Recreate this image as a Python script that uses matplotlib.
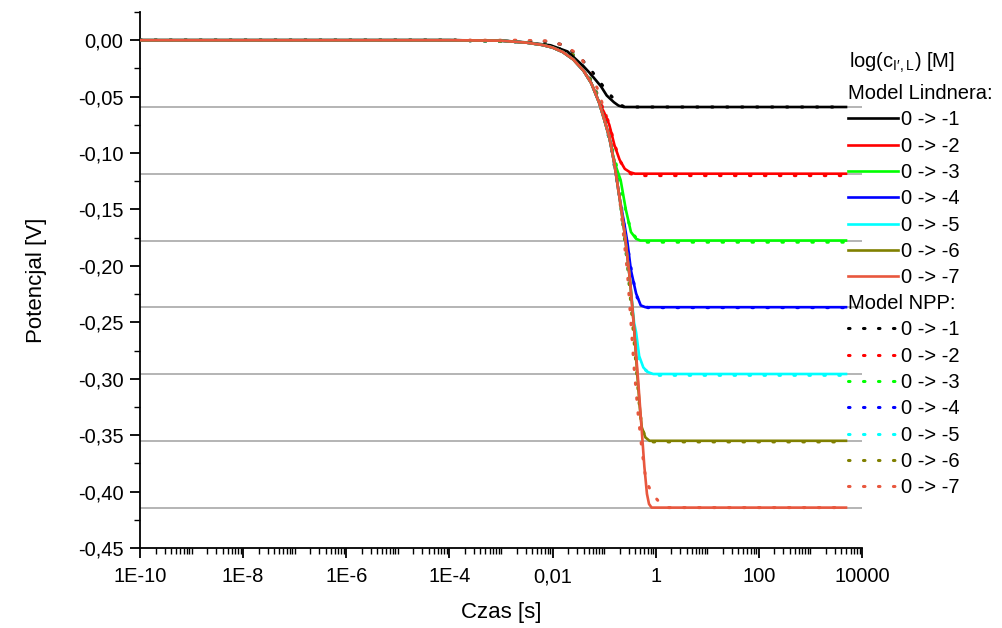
import numpy as np
import matplotlib
matplotlib.use('Agg')
import matplotlib.pyplot as plt
import matplotlib.ticker as mticker

plt.rcParams['font.family'] = ['Liberation Sans', 'DejaVu Sans']
plt.rcParams['mathtext.fontset'] = 'custom'
plt.rcParams['mathtext.rm'] = 'Liberation Sans'
plt.rcParams['mathtext.it'] = 'Liberation Sans'

# data: log10(t [s]) and potential [V]
# Model Lindnera (solid)
lind_logt = {
    1: [-10, -4, -3, -2.5, -2.04, -1.71, -1.39, -1.26, -1.06, -0.95, -0.81, -0.72, -0.62, 3.69],
    2: [-10, -4, -3, -2.5, -2.2, -2.0, -1.8, -1.6, -1.4, -1.25, -1.1, -1.0, -0.9, -0.8, -0.7, -0.6, -0.5, -0.4, 3.69],
    3: [-10, -4, -3, -2.5, -2.2, -2.0, -1.8, -1.6, -1.4, -1.25, -1.1, -1.0, -0.9, -0.8, -0.68, -0.58, -0.48, -0.38, -0.3, 3.69],
    4: [-10, -4, -3, -2.5, -2.2, -2.0, -1.8, -1.6, -1.4, -1.25, -1.1, -1.0, -0.9, -0.8, -0.7, -0.6, -0.546, -0.48, -0.38, -0.29, -0.2, 3.69],
    5: [-10, -4, -3, -2.5, -2.2, -2.0, -1.8, -1.6, -1.4, -1.25, -1.1, -1.0, -0.9, -0.8, -0.7, -0.6, -0.5, -0.42, -0.38, -0.32, -0.24, -0.157, -0.05, 3.69],
    6: [-10, -4, -3, -2.5, -2.2, -2.0, -1.8, -1.6, -1.4, -1.25, -1.1, -1.0, -0.9, -0.8, -0.7, -0.6, -0.5, -0.42, -0.36, -0.31, -0.27, -0.2, -0.12, 3.69],
    7: [-10, -4, -3, -2.5, -2.2, -2.0, -1.8, -1.6, -1.4, -1.25, -1.1, -1.0, -0.9, -0.8, -0.7, -0.6, -0.5, -0.42, -0.34, -0.28, -0.22, -0.17, -0.13, -0.08, 3.69],
}
lind_E = {
    1: [0, 0, -0.0003, -0.002, -0.0045, -0.010, -0.0236, -0.030, -0.041, -0.049, -0.055, -0.058, -0.0592, -0.0592],
    2: [0, 0, -0.0004, -0.0022, -0.0042, -0.0065, -0.0105, -0.017, -0.027, -0.038, -0.055, -0.064, -0.075, -0.093, -0.106, -0.114, -0.117, -0.1183, -0.1183],
    3: [0, 0, -0.0004, -0.0022, -0.0042, -0.0065, -0.0105, -0.017, -0.027, -0.038, -0.055, -0.070, -0.086, -0.108, -0.124, -0.150, -0.170, -0.176, -0.1775, -0.1775],
    4: [0, 0, -0.0004, -0.0022, -0.0042, -0.0065, -0.0105, -0.017, -0.027, -0.038, -0.055, -0.070, -0.086, -0.110, -0.140, -0.165, -0.180, -0.204, -0.2245, -0.235, -0.2366, -0.2366],
    5: [0, 0, -0.0004, -0.0022, -0.0042, -0.0065, -0.0105, -0.017, -0.027, -0.038, -0.055, -0.070, -0.086, -0.110, -0.140, -0.172, -0.212, -0.250, -0.259, -0.280, -0.290, -0.294, -0.2958, -0.2958],
    6: [0, 0, -0.0004, -0.0022, -0.0042, -0.0065, -0.0105, -0.017, -0.027, -0.038, -0.055, -0.070, -0.086, -0.110, -0.140, -0.172, -0.212, -0.255, -0.295, -0.325, -0.343, -0.352, -0.355, -0.355],
    7: [0, 0, -0.0004, -0.0022, -0.0042, -0.0065, -0.0105, -0.017, -0.027, -0.038, -0.055, -0.070, -0.086, -0.110, -0.140, -0.172, -0.212, -0.255, -0.302, -0.340, -0.378, -0.402, -0.411, -0.4142, -0.4142],
}

# Model NPP (dotted)
npp_logt = {
    1: [-10, -4, -2.08, -1.78, -1.47, -1.23, -1.0, -0.74, -0.6, 3.69],
    2: [-10, -4, -2.5, -2.0, -1.6, -1.4, -1.2, -1.0, -0.9, -0.8, -0.68, -0.55, -0.4, 3.69],
    3: [-10, -4, -2.5, -2.0, -1.6, -1.4, -1.2, -1.0, -0.85, -0.75, -0.65, -0.55, -0.45, -0.35, -0.25, 3.69],
    4: [-10, -4, -2.5, -2.0, -1.6, -1.4, -1.2, -1.0, -0.85, -0.7, -0.6, -0.52, -0.45, -0.36, -0.25, -0.15, 3.69],
    5: [-10, -4, -2.5, -2.0, -1.6, -1.4, -1.2, -1.0, -0.85, -0.7, -0.55, -0.45, -0.38, -0.32, -0.24, -0.12, 0.0, 3.69],
    6: [-10, -4, -2.5, -2.0, -1.6, -1.4, -1.2, -1.0, -0.85, -0.7, -0.55, -0.45, -0.36, -0.31, -0.26, -0.18, -0.08, 3.69],
    7: [-10, -2.7, -2.1, -1.78, -1.49, -1.3, -1.13, -0.9, -0.7, -0.55, -0.42, -0.34, -0.27, -0.19, -0.1, -0.03, 0.1, 0.25, 3.69],
}
npp_E = {
    1: [0, 0, -0.001, -0.0044, -0.015, -0.028, -0.042, -0.056, -0.0592, -0.0592],
    2: [0, 0, -0.0015, -0.005, -0.013, -0.024, -0.040, -0.063, -0.074, -0.092, -0.108, -0.117, -0.120, -0.120],
    3: [0, 0, -0.0015, -0.005, -0.013, -0.024, -0.040, -0.068, -0.095, -0.113, -0.135, -0.158, -0.171, -0.177, -0.179, -0.179],
    4: [0, 0, -0.0015, -0.005, -0.013, -0.024, -0.040, -0.068, -0.098, -0.138, -0.168, -0.190, -0.210, -0.228, -0.235, -0.237, -0.237],
    5: [0, 0, -0.0015, -0.005, -0.013, -0.024, -0.040, -0.068, -0.098, -0.138, -0.198, -0.245, -0.268, -0.283, -0.291, -0.295, -0.297, -0.297],
    6: [0, 0, -0.0015, -0.005, -0.013, -0.024, -0.040, -0.068, -0.098, -0.138, -0.198, -0.250, -0.300, -0.328, -0.345, -0.353, -0.356, -0.356],
    7: [0, 0, -0.0006, -0.0044, -0.013, -0.026, -0.043, -0.075, -0.140, -0.205, -0.290, -0.332, -0.362, -0.390, -0.399, -0.404, -0.411, -0.4142, -0.4142],
}

nernst_levels = [-0.0592, -0.1183, -0.1775, -0.2366, -0.2958, -0.355, -0.4142]
labels = ['0 -> -1', '0 -> -2', '0 -> -3', '0 -> -4', '0 -> -5', '0 -> -6', '0 -> -7']
colors = ['#000000', '#ff0000', '#00ff00', '#0000ff', '#00ffff', '#808000', '#e8573e']

fig = plt.figure(figsize=(10.02, 6.28), dpi=100)
ax = fig.add_axes([140 / 1002, 1 - 548 / 628, 722 / 1002, 536 / 628])

for lev in nernst_levels:
    ax.axhline(lev, color='#a0a0a0', lw=1.1, zorder=1)

solid = []
for i, k in enumerate(range(1, 8)):
    ln, = ax.plot(10 ** np.array(lind_logt[k]), lind_E[k], color=colors[i], lw=1.9,
                  label=labels[i], zorder=3)
    solid.append(ln)
dotted = []
for i, k in enumerate(range(1, 8)):
    ln, = ax.plot(10 ** np.array(npp_logt[k]), npp_E[k], color=colors[i], lw=2.2,
                  ls=(0, (0.5, 4.4)), dash_capstyle='round', label=labels[i], zorder=2)
    dotted.append(ln)

ax.set_xscale('log')
ax.set_xlim(1e-10, 1e4)
ax.set_ylim(-0.45, 0.025)

xt = [1e-10, 1e-8, 1e-6, 1e-4, 1e-2, 1, 100, 10000]
xl = ['1E-10', '1E-8', '1E-6', '1E-4', '0,01', '1', '100', '10000']
ax.xaxis.set_major_locator(mticker.FixedLocator(xt))
ax.xaxis.set_major_formatter(mticker.FixedFormatter(xl))
ax.xaxis.set_minor_locator(mticker.LogLocator(base=10, subs=np.arange(1, 10), numticks=100))
ax.xaxis.set_minor_formatter(mticker.NullFormatter())

ax.yaxis.set_major_locator(mticker.MultipleLocator(0.05))
ax.yaxis.set_minor_locator(mticker.MultipleLocator(0.025))
ax.yaxis.set_major_formatter(mticker.FuncFormatter(lambda v, p: ('%.2f' % v).replace('.', ',').replace('-0,00', '0,00')))

ax.spines['top'].set_visible(False)
ax.spines['right'].set_visible(False)
for s in ('left', 'bottom'):
    ax.spines[s].set_linewidth(1.3)
ax.tick_params(which='major', direction='out', length=7, width=1.3, labelsize=14.5, pad=5)
ax.tick_params(axis='x', which='major', pad=7)
ax.tick_params(which='minor', direction='out', length=4, width=1.0)

ax.set_xlabel('Czas [s]', fontsize=16, labelpad=11)
ax.set_ylabel('Potencjal [V]', fontsize=16, labelpad=22)

fig.text(849 / 1002, 1 - 63 / 628, r'log(c$_{\mathregular{I\prime,L}}$) [M]', fontsize=14.5,
         ha='left', va='center')

leg_kw = dict(frameon=False, fontsize=14.5, title_fontsize=14.5, alignment='left',
              handlelength=2.5, handletextpad=0.15, labelspacing=0.365, borderpad=0,
              borderaxespad=0, loc='upper left')
leg1 = ax.legend(handles=solid, title='Model Lindnera:',
                 bbox_to_anchor=(848 / 1002, 1 - 84 / 628), bbox_transform=fig.transFigure, **leg_kw)
ax.add_artist(leg1)
leg2 = ax.legend(handles=dotted, title='Model NPP:',
                 bbox_to_anchor=(848 / 1002, 1 - 294 / 628), bbox_transform=fig.transFigure, **leg_kw)

fig.savefig('out.png', dpi=100)
